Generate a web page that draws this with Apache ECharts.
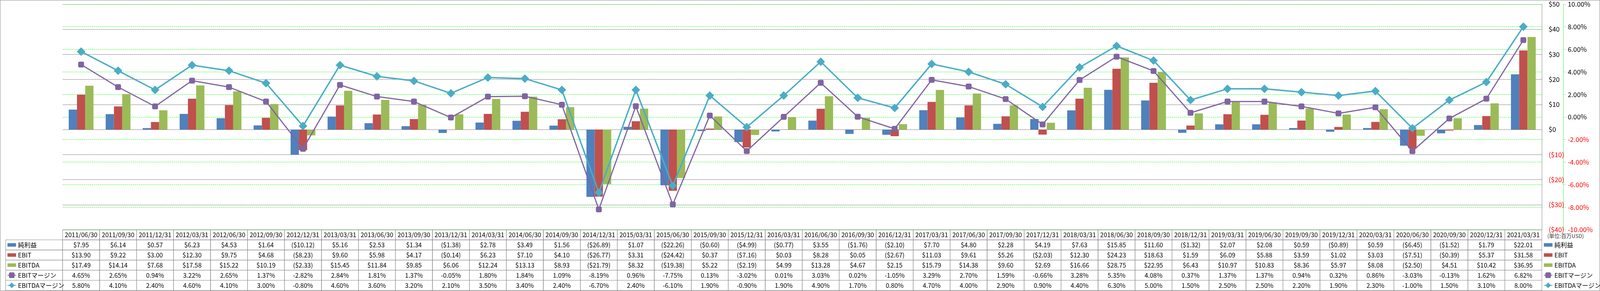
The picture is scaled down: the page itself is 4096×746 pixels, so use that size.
<!DOCTYPE html>
<html>
<head>
<meta charset="utf-8">
<script src="https://cdn.jsdelivr.net/npm/echarts@6/dist/echarts.min.js"></script>
<style>html,body{margin:0;padding:0;background:#fff;}#c{width:4096px;height:746px;}</style>
</head>
<body>
<div id="c"></div>
<script>
// ---------- data ----------
const dates = ['2011/06/30','2011/09/30','2011/12/31','2012/03/31','2012/06/30','2012/09/30','2012/12/31','2013/03/31','2013/06/30','2013/09/30',
  '2013/12/31','2014/03/31','2014/06/30','2014/09/30','2014/12/31','2015/03/31','2015/06/30','2015/09/30','2015/12/31','2016/03/31',
  '2016/06/30','2016/09/30','2016/12/31','2017/03/31','2017/06/30','2017/09/30','2017/12/31','2018/03/31','2018/06/30','2018/09/30',
  '2018/12/31','2019/03/31','2019/06/30','2019/09/30','2019/12/31','2020/03/31','2020/06/30','2020/09/30','2020/12/31','2021/03/31'];
const netIncome = [7.95,6.14,0.57,6.23,4.53,1.64,-10.12,5.16,2.53,1.34,
  -1.38,2.78,3.49,1.56,-26.89,1.07,-22.26,-0.60,-4.99,-0.77,
  3.55,-1.76,-2.10,7.70,4.80,2.28,4.19,7.63,15.85,11.60,
  -1.32,2.07,2.08,0.59,-0.89,0.59,-6.45,-1.52,1.79,22.01];
const ebit = [13.90,9.22,3.00,12.30,9.75,4.68,-8.23,9.60,5.98,4.17,
  -0.14,6.23,7.10,4.10,-26.77,3.31,-24.42,0.37,-7.16,0.03,
  8.28,0.05,-2.67,11.03,9.61,5.26,-2.03,12.30,24.23,18.63,
  1.59,6.09,5.88,3.59,1.02,3.03,-7.51,-0.39,5.37,31.58];
const ebitda = [17.49,14.14,7.68,17.58,15.22,10.19,-2.33,15.45,11.84,9.85,
  6.06,12.24,13.13,8.93,-21.79,8.32,-19.38,5.22,-2.19,4.99,
  13.28,4.67,2.15,15.79,14.38,9.60,2.69,16.66,28.75,22.95,
  6.43,10.97,10.83,8.36,5.97,8.08,-2.50,4.51,10.42,36.95];
const ebitMargin = [4.65,2.65,0.94,3.22,2.65,1.37,-2.82,2.84,1.81,1.37,
  -0.05,1.80,1.84,1.09,-8.19,0.96,-7.75,0.13,-3.02,0.01,
  3.03,0.02,-1.05,3.29,2.70,1.59,-0.66,3.28,5.35,4.08,
  0.37,1.37,1.37,0.94,0.32,0.86,-3.03,-0.13,1.62,6.82];
const ebitdaMargin = [5.80,4.10,2.40,4.60,4.10,3.00,-0.80,4.60,3.60,3.20,
  2.10,3.50,3.40,2.40,-6.70,2.40,-6.10,1.90,-0.90,1.90,
  4.90,1.70,0.80,4.70,4.00,2.90,0.90,4.40,6.30,5.00,
  1.50,2.50,2.50,2.20,1.90,2.30,-1.00,1.50,3.10,8.00];
const seriesNames = ['純利益','EBIT','EBITDA','EBITマージン','EBITDAマージン'];
const moneyAxis = {min:-40, max:50, interval:10};
const pctAxis = {min:-10, max:10, interval:2};
const unitLabel = '(単位:百万USD)';

// ---------- style / layout ----------
const FONT = "'Noto Sans CJK JP', 'Liberation Sans', sans-serif";
const C = {blue:'#4F81BD', red:'#C0504D', green:'#9BBB59', purple:'#8064A2', cyan:'#4BACC6', grid:'#888888', lime:'#00FF00'};
const W = 4096;
const plotLeft = 160.3, plotRightEdge = 3947.1, plotTop = 10.8, plotBottom = 589;
const rowH = 25.9, tableTop = plotBottom, tableRows = 6;
const legendColLeft = 14.6;
const BAR_ICON = 'path://M0,0L0,0M0,4.5L22,4.5L22,13.5L0,13.5ZM22,18L22,18';

const fmtMoney = v => v < 0 ? '($' + Math.abs(v).toFixed(2) + ')' : '$' + v.toFixed(2);
const fmtPct = v => v.toFixed(2) + '%';
const tableText = [dates, netIncome.map(fmtMoney), ebit.map(fmtMoney), ebitda.map(fmtMoney), ebitMargin.map(fmtPct), ebitdaMargin.map(fmtPct)];
const cells = [];
for (let c = 0; c < dates.length; c++) for (let r = 0; r < tableRows; r++) cells.push([c, r]);

const legendData = [
  {name: seriesNames[0], icon: BAR_ICON},
  {name: seriesNames[1], icon: BAR_ICON},
  {name: seriesNames[2], icon: BAR_ICON},
  {name: seriesNames[3]},
  {name: seriesNames[4]}
];
const legendBase = {
  orient: 'vertical', top: tableTop + rowH, itemWidth: 22, itemHeight: 18, itemGap: 0, padding: 0,
  selectedMode: false,
  textStyle: {fontSize: 16, lineHeight: rowH, color: '#000', fontFamily: FONT},
  data: legendData
};

const chart = echarts.init(document.getElementById('c'), null, {renderer: 'canvas'});
chart.setOption({
  animation: false,
  backgroundColor: '#fff',
  textStyle: {fontFamily: FONT},
  grid: [
    {left: plotLeft, right: W - plotRightEdge, top: plotTop, height: plotBottom - plotTop, containLabel: false, outerBoundsMode: 'none'},
    {left: plotLeft, right: W - plotRightEdge, top: tableTop, height: rowH * tableRows, containLabel: false, outerBoundsMode: 'none'}
  ],
  legend: [
    Object.assign({}, legendBase, {left: 18.1}),
    Object.assign({}, legendBase, {left: 3951.3})
  ],
  xAxis: [
    {type: 'category', gridIndex: 0, data: dates, axisLine: {show: false}, axisTick: {show: false}, axisLabel: {show: false}, splitLine: {show: false}},
    {type: 'category', gridIndex: 1, data: dates, show: false}
  ],
  yAxis: [
    {type: 'value', gridIndex: 0, position: 'right', min: moneyAxis.min, max: moneyAxis.max, interval: moneyAxis.interval,
      axisLine: {show: true, lineStyle: {color: C.grid, width: 1}}, axisTick: {show: false},
      axisLabel: {margin: 17.4, fontSize: 17, fontFamily: FONT,
        formatter: v => v < 0 ? '($' + (-v) + ')' : '$' + v,
        color: v => Number(v) < 0 ? '#FF0000' : '#000000'},
      splitLine: {show: true, lineStyle: {color: C.grid, width: 1}}},
    {type: 'value', gridIndex: 0, position: 'right', offset: 55.3, min: pctAxis.min, max: pctAxis.max, interval: pctAxis.interval,
      axisLine: {show: true, lineStyle: {color: C.lime, width: 1, type: [3, 2]}},
      axisTick: {show: true, length: 6, lineStyle: {color: C.lime, width: 1, type: [2, 2]}},
      axisLabel: {margin: 11, fontSize: 17, fontFamily: FONT,
        formatter: v => Number(v).toFixed(2) + '%',
        color: v => Number(v) < 0 ? '#FF0000' : '#000000'},
      splitLine: {show: true, lineStyle: {color: C.lime, width: 1, type: [3, 2]}}},
    {type: 'category', gridIndex: 1, data: [0,1,2,3,4,5], inverse: true, show: false}
  ],
  series: [
    {name: seriesNames[0], type: 'bar', xAxisIndex: 0, yAxisIndex: 0, data: netIncome, barGap: '0%', barCategoryGap: '33%', itemStyle: {color: C.blue}},
    {name: seriesNames[1], type: 'bar', xAxisIndex: 0, yAxisIndex: 0, data: ebit, barGap: '0%', barCategoryGap: '33%', itemStyle: {color: C.red}},
    {name: seriesNames[2], type: 'bar', xAxisIndex: 0, yAxisIndex: 0, data: ebitda, barGap: '0%', barCategoryGap: '33%', itemStyle: {color: C.green}},
    {name: seriesNames[3], type: 'line', xAxisIndex: 0, yAxisIndex: 1, data: ebitMargin, symbol: 'roundRect', symbolSize: 15,
      itemStyle: {color: C.purple}, lineStyle: {color: C.purple, width: 3}, z: 5},
    {name: seriesNames[4], type: 'line', xAxisIndex: 0, yAxisIndex: 1, data: ebitdaMargin, symbol: 'diamond', symbolSize: 22,
      itemStyle: {color: C.cyan}, lineStyle: {color: C.cyan, width: 3.6}, z: 6},
    {type: 'custom', xAxisIndex: 1, yAxisIndex: 2, data: cells, encode: {x: 0, y: 1}, silent: true, clip: false,
      renderItem: function (params, api) {
        const c = api.value(0), r = api.value(1);
        const p = api.coord([c, r]);
        const sz = api.size([1, 1]);
        const x = p[0] - sz[0] / 2, y = p[1] - sz[1] / 2;
        const children = [
          {type: 'rect', shape: {x: x, y: y, width: sz[0], height: sz[1]}, style: {fill: 'none', stroke: C.grid, lineWidth: 1}},
          {type: 'text', style: {text: tableText[r][c], x: p[0], y: p[1], align: 'center', verticalAlign: 'middle', fontSize: 16, fontFamily: FONT, fill: '#000'}}
        ];
        if (c === 0 && r >= 1) {
          const lx = legendColLeft;
          children.push({type: 'rect', shape: {x: lx, y: y, width: params.coordSys.x - lx, height: sz[1]}, style: {fill: 'none', stroke: C.grid, lineWidth: 1}});
        }
        return {type: 'group', children: children};
      }}
  ],
  graphic: [
    {type: 'rect', silent: true, z: -10, shape: {x: 0.5, y: 0.5, width: W - 1, height: 744.5}, style: {fill: 'none', stroke: C.grid, lineWidth: 1}},
    {type: 'text', silent: true, left: 3961, top: 598, style: {text: unitLabel, fontSize: 13.5, fontFamily: FONT, fill: '#333'}}
  ]
});
</script>
</body>
</html>
